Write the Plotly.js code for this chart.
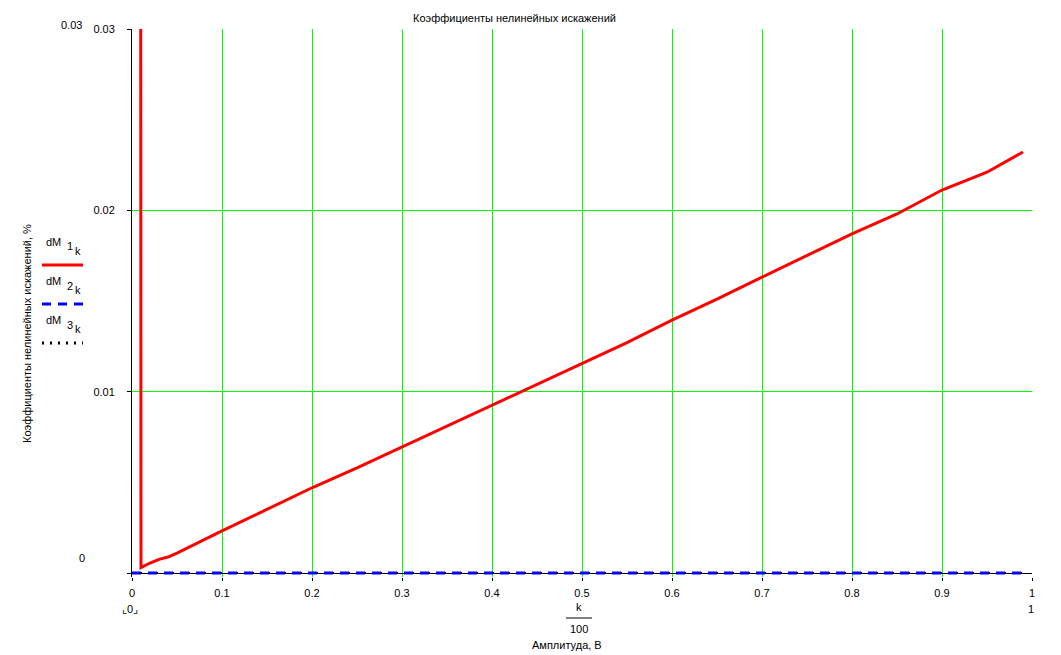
<!DOCTYPE html>
<html>
<head>
<meta charset="utf-8">
<script src="https://cdn.plot.ly/plotly-3.0.1.min.js"></script>
<style>
html,body{margin:0;padding:0;background:#fff;}
#chart{width:1061px;height:655px;}
</style>
</head>
<body>
<div id="chart"></div>
<script>
// Data (x = k/100)
var xValues = [0, 0.01, 0.02, 0.03, 0.04, 0.05, 0.10, 0.15, 0.20, 0.25, 0.30, 0.35, 0.40, 0.45, 0.50, 0.55, 0.60, 0.65, 0.70, 0.75, 0.80, 0.85, 0.90, 0.95, 0.99];
var dM1 = [1.0, 0.0003, 0.00055, 0.00075, 0.00088, 0.0011, 0.00232, 0.0035, 0.0047, 0.0058, 0.00695, 0.0081, 0.00926, 0.0104, 0.01158, 0.0127, 0.01395, 0.0151, 0.01632, 0.0175, 0.0187, 0.0198, 0.02112, 0.0221, 0.02322];
var dM2 = [0, 0, 0, 0, 0, 0, 0, 0, 0, 0, 0, 0, 0, 0, 0, 0, 0, 0, 0, 0, 0, 0, 0, 0, 0];
var dM3 = [0, 0, 0, 0, 0, 0, 0, 0, 0, 0, 0, 0, 0, 0, 0, 0, 0, 0, 0, 0, 0, 0, 0, 0, 0];
var xTickVals = [0, 0.1, 0.2, 0.3, 0.4, 0.5, 0.6, 0.7, 0.8, 0.9, 1];
var xTickText = ['0', '0.1', '0.2', '0.3', '0.4', '0.5', '0.6', '0.7', '0.8', '0.9', '1'];
var yTickVals = [0, 0.01, 0.02, 0.03];
var yTickText = ['', '0.01', '0.02', '0.03'];

var FONT = '"Liberation Sans", Arial, sans-serif';
var FS = 11;
// plot frame: y=0 at pixel 573, y=0.03 at pixel 29; plot extends a few px below zero so the dashed zero line is not clipped
var L = 132, R = 1032, T = 29, Y0 = 573, B = 577;
var yLow = -0.03 * (B - Y0) / (Y0 - T);
function px(x){ return (x - L) / (R - L); }
function py(y){ return (B - y) / (B - T); }

var traces = [
  {x: xValues, y: dM1, mode: 'lines', line: {color: '#ff0000', width: 3}, showlegend: false, hoverinfo: 'none'},
  {x: xValues, y: dM3, mode: 'lines', line: {color: '#000000', width: 2, dash: '2px,6px'}, showlegend: false, hoverinfo: 'none'},
  {x: xValues, y: dM2, mode: 'lines', line: {color: '#0000ff', width: 3, dash: '9px,7px'}, showlegend: false, hoverinfo: 'none'}
];

function txt(x, y, s, size, anchor){
  return {xref: 'paper', yref: 'paper', x: px(x), y: py(y), text: s, showarrow: false,
          xanchor: anchor || 'center', yanchor: 'middle', font: {family: FONT, size: size || FS, color: '#000'}};
}

var annotations = [
  txt(514, 18, 'Коэффициенты нелинейных искажений', 11),
  txt(82, 558, '0'),
  txt(71, 25, '0.03'),
  txt(130, 609, '⌞0⌟'),
  txt(1031, 609, '1'),
  txt(579, 607, 'k'),
  txt(579, 629, '100'),
  txt(567, 645, 'Амплитуда, В'),
  // legend labels
  txt(44, 242, 'dM', FS, 'left'), txt(65, 246, '1', FS, 'left'), txt(73, 251, 'k', FS, 'left'),
  txt(44, 281, 'dM', FS, 'left'), txt(65, 286, '2', FS, 'left'), txt(73, 290, 'k', FS, 'left'),
  txt(44, 320, 'dM', FS, 'left'), txt(65, 325, '3', FS, 'left'), txt(73, 329, 'k', FS, 'left')
];
var yTitle = txt(27, 334, 'Коэффициенты нелинейных искажений, %');
yTitle.textangle = -90;
annotations.push(yTitle);

var shapes = [
  {type: 'line', xref: 'paper', yref: 'paper', x0: px(566), x1: px(592), y0: py(618), y1: py(618), line: {color: '#000', width: 1}},
  {type: 'line', xref: 'paper', yref: 'paper', x0: px(42), x1: px(83), y0: py(265), y1: py(265), line: {color: '#ff0000', width: 3}},
  {type: 'line', xref: 'paper', yref: 'paper', x0: px(42), x1: px(83), y0: py(304), y1: py(304), line: {color: '#0000ff', width: 3, dash: '9px,7px'}},
  {type: 'line', xref: 'paper', yref: 'paper', x0: px(42), x1: px(83), y0: py(343), y1: py(343), line: {color: '#000000', width: 3, dash: '2px,6px'}}
];

var layout = {
  width: 1061, height: 655,
  margin: {l: L, r: 1061 - R, t: T, b: 655 - B, pad: 0},
  paper_bgcolor: '#fff', plot_bgcolor: '#fff',
  showlegend: false,
  xaxis: {range: [0, 1], tickvals: xTickVals, ticktext: xTickText, showgrid: true, gridcolor: '#00ff00', gridwidth: 1,
          zeroline: false, showline: false, ticks: 'outside', ticklen: 3, tickcolor: '#000',
          tickfont: {family: FONT, size: FS, color: '#000'}, ticklabelstandoff: 3, fixedrange: true},
  yaxis: {range: [yLow, 0.03], tickvals: yTickVals, ticktext: yTickText, showgrid: true, gridcolor: '#00ff00', gridwidth: 1,
          zeroline: true, zerolinecolor: '#000', zerolinewidth: 1,
          showline: true, linecolor: '#000', linewidth: 1, ticks: 'outside', ticklen: 4, tickcolor: '#000',
          tickfont: {family: FONT, size: FS, color: '#000'}, ticklabelstandoff: 10, fixedrange: true},
  annotations: annotations,
  shapes: shapes
};

Plotly.newPlot('chart', traces, layout, {staticPlot: true, displayModeBar: false});
</script>
</body>
</html>
